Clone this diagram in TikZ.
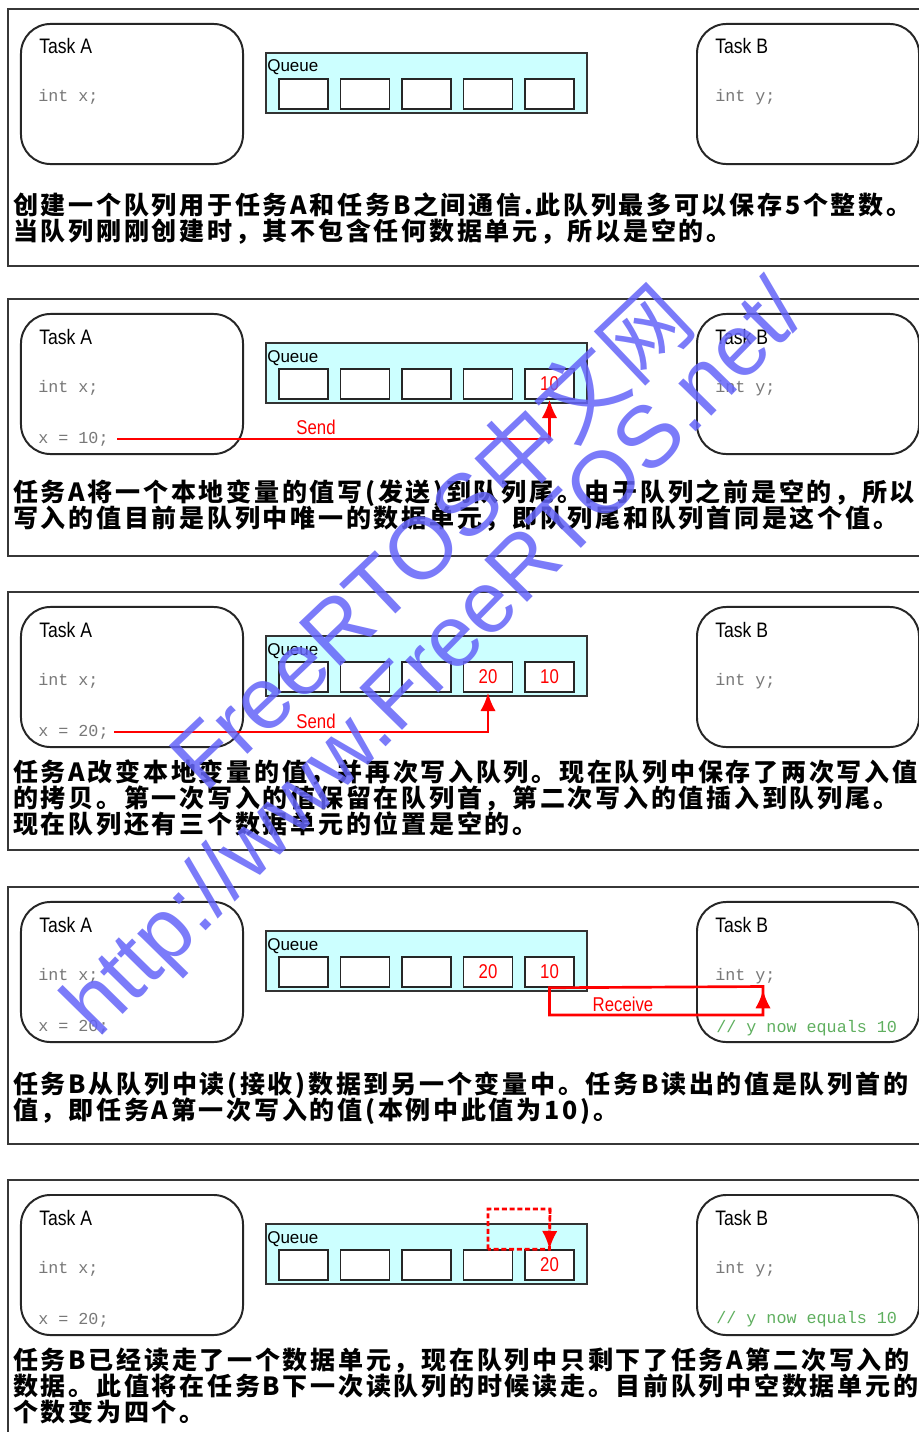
\documentclass[tikz,border=0pt]{standalone}
\usepackage{fontspec}
\setmainfont{Liberation Sans}
\setmonofont{Liberation Mono}
\newfontfamily\cjk[LetterSpace=10.8]{Noto Sans CJK SC}
\newfontfamily\cjkw{Noto Sans CJK SC}
\usetikzlibrary{calc,arrows.meta}

\definecolor{qcyan}{RGB}{204,255,255}
\definecolor{cgray}{RGB}{120,120,120}
\definecolor{cgreen}{RGB}{95,175,95}
\definecolor{wmblue}{RGB}{100,100,248}
\definecolor{pline}{RGB}{55,55,55}

\newcommand{\nrw}[1]{\scalebox{0.84}[1]{#1}}

\tikzset{
  pframe/.style={draw=pline,line width=1pt},
  task/.style={draw=black!85,line width=1.4pt,rounded corners=21pt,minimum width=157.9pt,minimum height=99.6pt,inner sep=0},
  queue/.style={draw=black!80,line width=1.1pt,fill=qcyan,minimum width=228.3pt,minimum height=42.7pt,inner sep=0},
  cell/.style={draw=black!85,line width=1.1pt,fill=white,minimum width=34.9pt,minimum height=21.3pt,inner sep=0},
  num/.style={inner sep=0,text=red,font=\fontsize{14.2pt}{14.2pt}\selectfont},
  title/.style={anchor=base west,inner sep=0,font=\fontsize{14.9pt}{15pt}\selectfont},
  qlabel/.style={anchor=base west,inner sep=0,font=\fontsize{12.1pt}{12pt}\selectfont},
  code/.style={anchor=base west,inner sep=0,text=cgray,font=\fontsize{11.9pt}{12pt}\ttfamily},
  note/.style={code,text=cgreen},
  cn/.style={anchor=base west,inner sep=0,font=\fontsize{17.8pt}{18.5pt}\cjk\bfseries},
  redtxt/.style={anchor=base,inner sep=0,text=red,font=\fontsize{14.2pt}{14pt}\selectfont},
  flow/.style={draw=red,line width=1.9pt},
  tip/.style={-{Latex[length=13pt,width=11pt]}},
  wm/.style={inner sep=0,text=wmblue,text opacity=0.85,font=\fontsize{62pt}{62pt}\selectfont},
}

\begin{document}
\begin{tikzpicture}[x=0.025cm,y=-0.025cm]
  \useasboundingbox (0,0) rectangle (919,1432);
  \fill[white] (0,0) rectangle (919,1432);

  \begin{scope}[shift={(0,9)}]
    \draw[pframe] (8,0) rectangle (940,257);
    \node[task] (ta1) at (132,85) {};
    \node[title] (tat1) at (39,45) {\nrw{Task A}};
    \node[code] (ia1) at (38,93) {int x;};
    \node[queue] (q1) at (426.5,74) {};
    \node[qlabel] (ql1) at (267,63) {Queue};
    \foreach \i in {1,...,5} \node[cell] (c1-\i) at (242+61.5*\i,85) {};
    \node[task] (tb1) at (808,85) {};
    \node[title] (tbt1) at (715,45) {\nrw{Task B}};
    \node[code] (ib1) at (715,93) {int y;};
    \node[cn] (t1a) at (13,205.5) {创建一个队列用于任务A和任务B之间通信.此队列最多可以保存5个整数。};
    \node[cn] (t1b) at (13,231.5) {当队列刚刚创建时，其不包含任何数据单元，所以是空的。};
  \end{scope}

  \begin{scope}[shift={(0,299)}]
    \draw[pframe] (8,0) rectangle (940,257);
    \node[task] (ta2) at (132,85) {};
    \node[title] (tat2) at (39,45) {\nrw{Task A}};
    \node[code] (ia2) at (38,93) {int x;};
    \node[code] (xa2) at (38,144) {x = 10;};
    \node[queue] (q2) at (426.5,74) {};
    \node[qlabel] (ql2) at (267,63) {Queue};
    \foreach \i in {1,...,5} \node[cell] (c2-\i) at (242+61.5*\i,85) {};
    \node[num] (n2-5) at (c2-5) {\nrw{10}};
    \node[task] (tb2) at (808,85) {};
    \node[title] (tbt2) at (715,45) {\nrw{Task B}};
    \node[code] (ib2) at (715,93) {int y;};
    \draw[flow,tip] ([xshift=6pt]xa2.east) -| (c2-5.south);
    \node[redtxt] (s2) at (316,135) {\nrw{Send}};
    \node[cn] (t2a) at (13,202.5) {任务A将一个本地变量的值写(发送)到队列尾。由于队列之前是空的，所以};
    \node[cn] (t2b) at (13,228.5) {写入的值目前是队列中唯一的数据单元，即队列尾和队列首同是这个值。};
  \end{scope}

  \begin{scope}[shift={(0,592)}]
    \draw[pframe] (8,0) rectangle (940,258);
    \node[task] (ta3) at (132,85) {};
    \node[title] (tat3) at (39,45) {\nrw{Task A}};
    \node[code] (ia3) at (38,93) {int x;};
    \node[code] (xa3) at (38,144) {x = 20;};
    \node[queue] (q3) at (426.5,74) {};
    \node[qlabel] (ql3) at (267,63) {Queue};
    \foreach \i in {1,...,5} \node[cell] (c3-\i) at (242+61.5*\i,85) {};
    \node[num] (n3-4) at (c3-4) {\nrw{20}};
    \node[num] (n3-5) at (c3-5) {\nrw{10}};
    \node[task] (tb3) at (808,85) {};
    \node[title] (tbt3) at (715,45) {\nrw{Task B}};
    \node[code] (ib3) at (715,93) {int y;};
    \draw[flow,tip] ([xshift=4pt]xa3.east) -| (c3-4.south);
    \node[redtxt] (s3) at (316,136) {\nrw{Send}};
    \node[cn] (t3a) at (13,189.5) {任务A改变本地变量的值，并再次写入队列。现在队列中保存了两次写入值};
    \node[cn] (t3b) at (13,215.5) {的拷贝。第一次写入的值保留在队列首，第二次写入的值插入到队列尾。};
    \node[cn] (t3c) at (13,241.5) {现在队列还有三个数据单元的位置是空的。};
  \end{scope}

  \begin{scope}[shift={(0,887)}]
    \draw[pframe] (8,0) rectangle (940,257);
    \node[task] (ta4) at (132,85) {};
    \node[title] (tat4) at (39,45) {\nrw{Task A}};
    \node[code] (ia4) at (38,93) {int x;};
    \node[code] (xa4) at (38,144) {x = 20;};
    \node[queue] (q4) at (426.5,74) {};
    \node[qlabel] (ql4) at (267,63) {Queue};
    \foreach \i in {1,...,5} \node[cell] (c4-\i) at (242+61.5*\i,85) {};
    \node[num] (n4-4) at (c4-4) {\nrw{20}};
    \node[num] (n4-5) at (c4-5) {\nrw{10}};
    \node[task] (tb4) at (808,85) {};
    \node[title] (tbt4) at (715,45) {\nrw{Task B}};
    \node[code] (ib4) at (715,93) {int y;};
    \node[note] (nb4) at (716,145) {// y now equals 10};
    \coordinate (r4a) at (549.5,128);
    \coordinate (r4b) at (763,128);
    \coordinate (r4c) at (763,99.5);
    \coordinate (r4d) at (763,103);
    \draw[flow] (c4-5.south) -- (r4a) -- (r4b) -- (r4c) -- cycle;
    \draw[flow,tip] (r4b) -- (r4d);
    \node[redtxt] (rv4) at (623,124) {\nrw{Receive}};
    \node[cn] (t4a) at (13,206) {任务B从队列中读(接收)数据到另一个变量中。任务B读出的值是队列首的};
    \node[cn] (t4b) at (13,232) {值，即任务A第一次写入的值(本例中此值为10)。};
  \end{scope}

  \begin{scope}[shift={(0,1180)}]
    \draw[pframe] (8,0) rectangle (940,300);
    \node[task] (ta5) at (132,85) {};
    \node[title] (tat5) at (39,45) {\nrw{Task A}};
    \node[code] (ia5) at (38,93) {int x;};
    \node[code] (xa5) at (38,144) {x = 20;};
    \node[queue] (q5) at (426.5,74) {};
    \node[qlabel] (ql5) at (267,63) {Queue};
    \foreach \i in {1,...,5} \node[cell] (c5-\i) at (242+61.5*\i,85) {};
    \node[num] (n5-5) at (c5-5) {\nrw{20}};
    \node[task] (tb5) at (808,85) {};
    \node[title] (tbt5) at (715,45) {\nrw{Task B}};
    \node[code] (ib5) at (715,93) {int y;};
    \node[note] (nb5) at (716,143) {// y now equals 10};
    \coordinate (d5a) at (488,29);
    \coordinate (d5b) at (550,29);
    \draw[flow,dash pattern=on 3.5pt off 2pt] (c5-4.north) -- (d5a) -- (d5b) -- (c5-5.north) -- cycle;
    \draw[flow,dash pattern=on 3.5pt off 2pt,tip] (d5b) -- (c5-5.north);
    \node[cn] (t5a) at (13,189.5) {任务B已经读走了一个数据单元，现在队列中只剩下了任务A第二次写入的};
    \node[cn] (t5b) at (13,215.5) {数据。此值将在任务B下一次读队列的时候读走。目前队列中空数据单元的};
    \node[cn] (t5c) at (13,241.5) {个数变为四个。};
  \end{scope}

  \node[wm,rotate=43.5,anchor=base west] (wm1) at (205,795) {FreeRTOS{\cjkw 中文网}};
  \node[wm,rotate=45.5,anchor=base west] (wm2) at (98,1040) {http://www.FreeRTOS.net/};
\end{tikzpicture}
\end{document}
